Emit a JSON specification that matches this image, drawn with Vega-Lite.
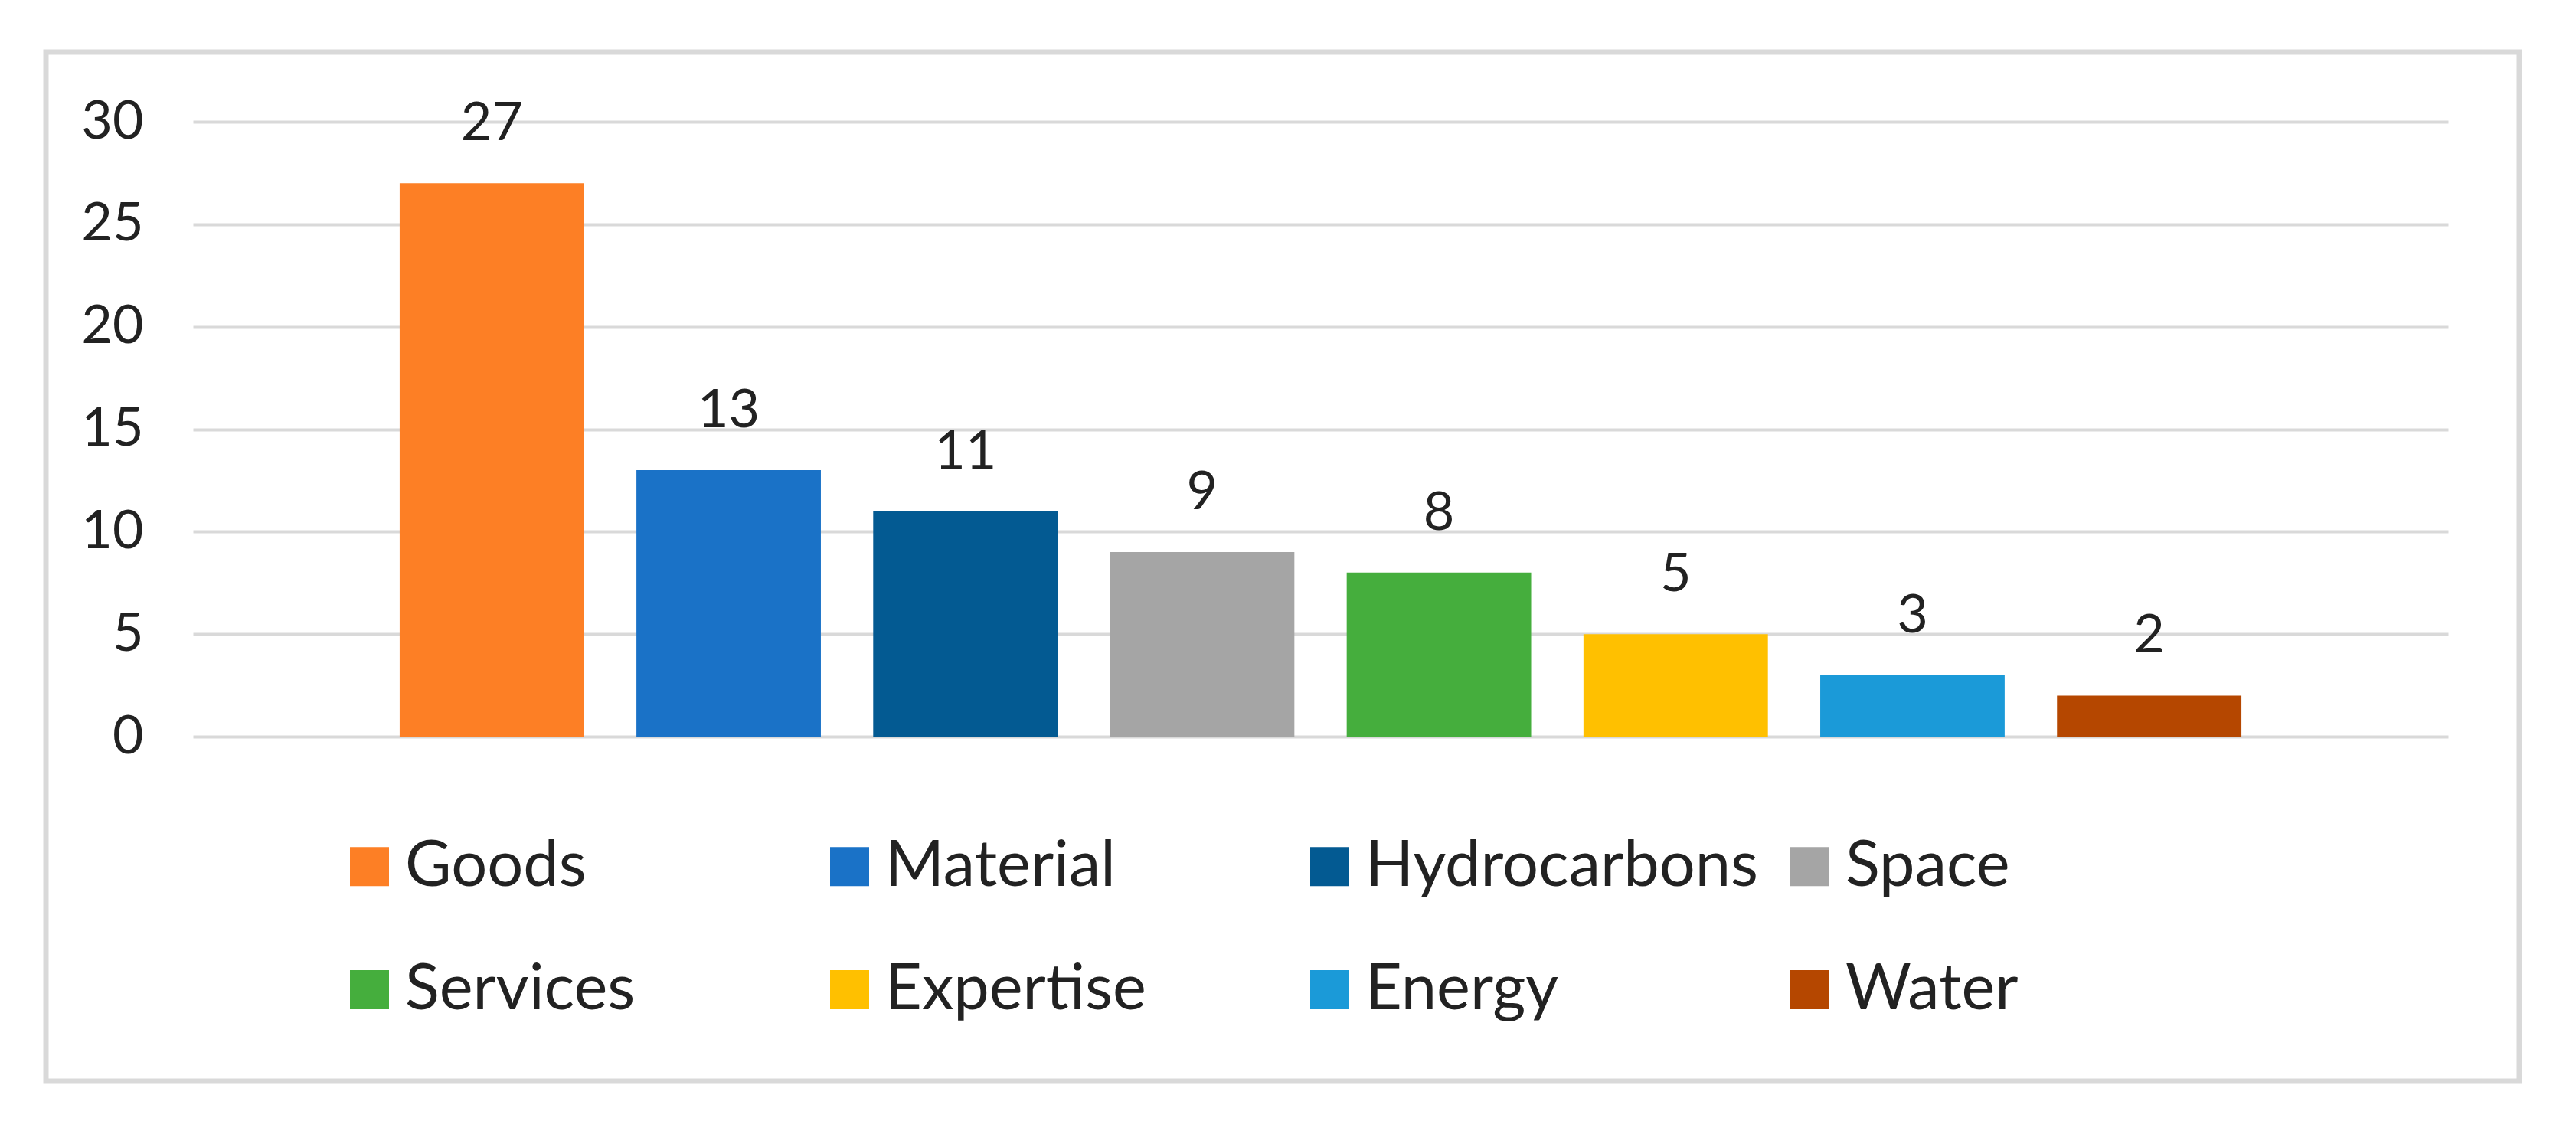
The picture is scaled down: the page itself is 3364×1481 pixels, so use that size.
{
  "$schema": "https://vega.github.io/schema/vega-lite/v6.json",
  "width": 2945,
  "height": 803,
  "autosize": {"type": "none"},
  "padding": {"left": 252, "top": 159, "right": 167, "bottom": 519},
  "background": "white",
  "config": {"view": {"stroke": null}, "font": "Lato"},
  "layer": [
    {
      "data": {"values": [{}]},
      "mark": {"type": "rect", "filled": false, "stroke": "#d9d9d9", "strokeWidth": 7},
      "encoding": {
        "x": {"value": -192},
        "x2": {"value": 3038},
        "y": {"value": -91},
        "y2": {"value": 1253}
      }
    },
    {
      "data": {
        "values": [
          {"category": "Goods", "value": 27},
          {"category": "Material", "value": 13},
          {"category": "Hydrocarbons", "value": 11},
          {"category": "Space", "value": 9},
          {"category": "Services", "value": 8},
          {"category": "Expertise", "value": 5},
          {"category": "Energy", "value": 3},
          {"category": "Water", "value": 2}
        ]
      },
      "encoding": {
        "x": {
          "field": "category",
          "type": "nominal",
          "sort": null,
          "axis": null,
          "scale": {"paddingInner": 0.221, "paddingOuter": 0.873}
        },
        "y": {
          "field": "value",
          "type": "quantitative",
          "scale": {"domain": [0, 30], "nice": false},
          "axis": {
            "title": null,
            "values": [0, 5, 10, 15, 20, 25, 30],
            "domain": false,
            "ticks": false,
            "grid": true,
            "gridColor": "#d9d9d9",
            "gridWidth": 4,
            "labelFont": "Lato",
            "labelFontSize": 70,
            "labelColor": "#222222",
            "labelPadding": 65
          }
        }
      },
      "layer": [
        {
          "mark": {"type": "bar"},
          "encoding": {
            "color": {
              "field": "category",
              "type": "nominal",
              "sort": null,
              "scale": {
                "domain": ["Goods", "Material", "Hydrocarbons", "Space", "Services", "Expertise", "Energy", "Water"],
                "range": ["#FD7F25", "#1A72C7", "#035A92", "#A5A5A5", "#45AE3D", "#FFC000", "#1B9AD8", "#B54700"]
              },
              "legend": {
                "title": null,
                "orient": "none",
                "legendX": 189,
                "legendY": 931,
                "direction": "horizontal",
                "columns": 4,
                "gridAlign": "all",
                "columnPadding": 26,
                "rowPadding": 77,
                "symbolType": "square",
                "symbolSize": 2601,
                "symbolStrokeWidth": 0,
                "symbolOpacity": 1,
                "labelFont": "Lato",
                "labelFontSize": 83,
                "labelColor": "#222222",
                "labelOffset": 5,
                "labelLimit": 2000
              }
            }
          }
        },
        {
          "mark": {"type": "text", "baseline": "alphabetic", "dy": -56, "fontSize": 70, "font": "Lato", "color": "#222222"},
          "encoding": {
            "text": {"field": "value", "type": "quantitative"}
          }
        }
      ]
    }
  ]
}
